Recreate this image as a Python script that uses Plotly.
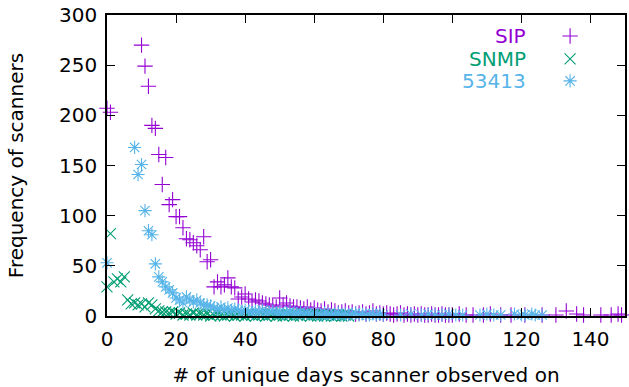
import plotly.graph_objects as go

# ---- data ----
sip_days = [0, 1] + list(range(10, 101)) + [102, 104, 106, 109, 111, 114, 117, 121, 126, 130, 133, 136, 138, 143, 146, 148, 149]
sip_counts = [207, 203,
              270, 249, 229, 190, 187, 161, 131, 158, 111, 116,
              99, 99, 88, 77, 76, 73, 70, 66, 79, 54,
              56, 29, 34, 29, 31, 38, 29, 28, 17, 19,
              22, 17, 14, 16, 15, 13, 12, 11, 10, 9,
              18, 11, 13, 10, 9, 9, 8, 7, 9, 6,
              8, 6, 5, 7, 4, 6, 5, 3, 4, 5,
              3, 4, 2, 3, 4, 2, 3, 5, 2, 3,
              2, 3, 2, 1, 2, 3, 1, 2, 1, 2,
              1, 2, 1, 1, 2, 1, 1, 2, 1, 1,
              1,
              2, 1, 1, 1, 2, 1, 1, 1, 1, 1, 5, 2, 1, 1, 1, 2, 1]

snmp_days = list(range(0, 71))
snmp_counts = [29, 82, 34, 37, 34, 39, 16, 12, 13, 11,
               12, 9, 13, 11, 7, 5, 4, 4, 3, 4,
               2, 3, 1, 2, 1, 3, 1, 2, 1, 2,
               0, 1, 2, 1, 0, 1, 2, 0, 1, 1,
               0, 2, 1, 0, 1, 1, 0, 1, 2, 0,
               1, 0, 1, 1, 0, 1, 0, 2, 1, 0,
               1, 0, 1, 0, 1, 0, 0, 1, 0, 1,
               0]

b_days = [0] + list(range(8, 81)) + [85, 88, 91, 93, 95, 97, 99, 101, 103, 108, 110, 112, 114, 118, 120, 121, 123, 124, 126]
b_counts = [53,
            168, 141, 151, 105, 85, 81, 52, 39, 34, 29, 26, 23,
            18, 16, 13, 19, 16, 14, 16, 13, 11, 11,
            10, 8, 7, 9, 6, 8, 5, 7, 6, 4,
            6, 5, 3, 5, 4, 6, 3, 4, 5, 3,
            4, 2, 3, 5, 2, 3, 4, 2, 3, 2,
            3, 2, 1, 3, 2, 1, 2, 3, 1, 2,
            1, 2, 3, 1, 2, 1, 1, 2, 1, 2,
            1,
            1, 2, 1, 2, 1, 1, 2, 1, 1, 1, 2, 1, 1, 2, 1, 1, 2, 1, 1]

series_names = ["SIP", "SNMP", "53413"]
x_ticks = [0, 20, 40, 60, 80, 100, 120, 140]
y_ticks = [0, 50, 100, 150, 200, 250, 300]

colors = ["#9400d3", "#009e73", "#56b4e9"]
symbols = ["cross-thin-open", "x-thin-open", "asterisk-open"]
sizes = [11, 11, 11]

fig = go.Figure()
for name, xs, ys, c, s, sz in zip(series_names, [sip_days, snmp_days, b_days],
                                  [sip_counts, snmp_counts, b_counts], colors, symbols, sizes):
    fig.add_trace(go.Scatter(x=xs, y=ys, mode="markers", name=name, showlegend=False,
                             cliponaxis=False,
                             marker=dict(symbol=s, size=sz, color=c, line=dict(color=c, width=1.1))))

# key (gnuplot-like: text then sample)
key_y = [0.930, 0.854, 0.781]
for name, c, s, sz, ky in zip(series_names, colors, symbols, sizes, key_y):
    fig.add_trace(go.Scatter(x=[0.894], y=[ky], xaxis="x2", yaxis="y2", mode="markers",
                             showlegend=False, hoverinfo="skip", cliponaxis=False,
                             marker=dict(symbol=s, size=sz, color=c, line=dict(color=c, width=1.1))))
    fig.add_annotation(x=0.812, y=ky, xref="paper", yref="paper", text=name, showarrow=False,
                       xanchor="right", yanchor="middle", font=dict(color=c, size=20))

axis_common = dict(showline=True, linecolor="black", linewidth=1.5, mirror="ticks",
                   ticks="inside", ticklen=8, tickwidth=1.2, tickcolor="black",
                   showgrid=False, zeroline=False,
                   tickfont=dict(size=20, color="black"))

fig.update_layout(
    width=629, height=387,
    margin=dict(l=107, r=2, t=15, b=71),
    paper_bgcolor="white", plot_bgcolor="white",
    font=dict(family="DejaVu Sans", size=20, color="black"),
    xaxis=dict(range=[0, 150], tickvals=x_ticks, ticklabelstandoff=4,
               title=dict(text="# of unique days scanner observed on", standoff=20, font=dict(size=20)),
               **axis_common),
    yaxis=dict(range=[0, 300], tickvals=y_ticks, ticklabelstandoff=4,
               title=dict(text="Frequency of scanners", standoff=30, font=dict(size=20)),
               **axis_common),
    xaxis2=dict(overlaying="x", range=[0, 1], visible=False),
    yaxis2=dict(overlaying="y", range=[0, 1], visible=False),
)

fig.write_html("out.html")
